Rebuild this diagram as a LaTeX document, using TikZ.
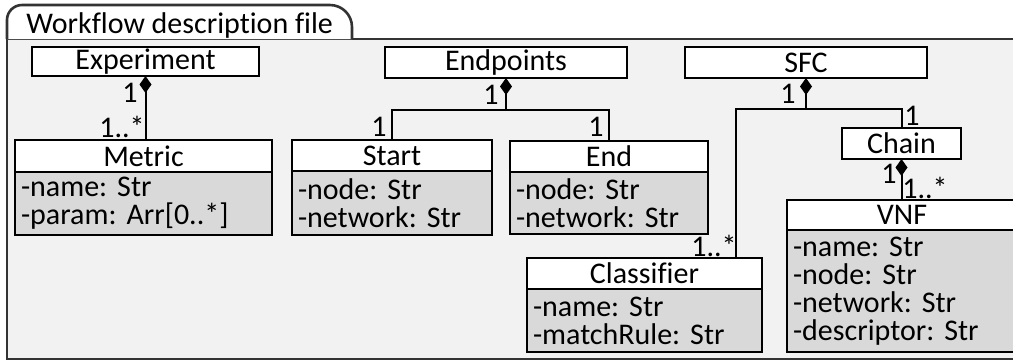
\documentclass[tikz,border=0pt]{standalone}
\usepackage{fontspec}
\setmainfont{Carlito}[Ligatures=NoCommon]
\usetikzlibrary{
  positioning,
  arrows.meta,
  calc
}
\definecolor{wfFrame}{HTML}{F2F2F2}
\definecolor{wfAttr}{HTML}{D9D9D9}
\frenchspacing

\begin{document}
\begin{tikzpicture}[
  x=0.5pt, y=-0.5pt,
  every node/.style={font=\fontsize{15pt}{14pt}\selectfont},
  frame/.style={draw=black!80, line width=1.3pt},
  hbox/.style={
    rectangle, draw, fill=white, line width=1.1pt,
    inner sep=0pt, outer sep=0pt, minimum height=15.5pt
  },
  abox/.style={
    rectangle, draw, fill=wfAttr, line width=1.1pt,
    anchor=north west, align=left,
    inner xsep=3pt, inner ysep=0pt, outer sep=0pt
  },
  mult/.style={inner sep=0pt},
  link/.style={line width=1pt},
  compo/.style={{Diamond[length=8.5pt, width=6pt]}-, line width=1pt}
]
 \useasboundingbox (0,0) rectangle (1013,361);
 \clip (0,0) rectangle (1013,361);

 % package frame with tab
 \draw[frame, fill=wfFrame] (7,39) rectangle (1030,359);
 \draw[frame, fill=white] (7,39) -- (7,20) arc[start angle=180, end angle=270, radius=15]
   -- (330,5) arc[start angle=270, end angle=360, radius=22] -- (352,39);
 \node[anchor=base west, inner sep=0pt] (title) at (26,33) {Workflow description file};

 % top row -- 3 containers
 \node[hbox, minimum width=113.5pt, minimum height=14.5pt] (exp) at (145.5,61.5) {Experiment};
 \node[hbox, minimum width=121pt]  (endp) at (506,62.5) {Endpoints};
 \node[hbox, minimum width=121pt]  (sfc)  at (806,62.5) {SFC};

 % Metric
 \node[hbox, anchor=north west, minimum width=128.5pt, minimum height=16pt] (metric) at (15,140) {Metric};
 \node[abox, minimum width=128.5pt, text width=122.5pt, minimum height=31.5pt] (metricA) at (metric.south west)
   {-name: Str\\-param: Arr[0..*]};

 % Start / End
 \node[hbox, anchor=north west, minimum width=100pt] (start) at (292,140) {Start};
 \node[abox, minimum width=100pt, text width=94pt, minimum height=32pt] (startA) at (start.south west)
   {-node: Str\\-network: Str};
 \node[hbox, anchor=north west, minimum width=99pt] (end) at (510,141) {End};
 \node[abox, minimum width=99pt, text width=93pt, minimum height=31pt] (endA) at (end.south west)
   {-node: Str\\-network: Str};

 % Chain, VNF, Classifier
 \node[hbox, minimum width=59.5pt] (chain) at (901.5,143.5) {Chain};
 \node[hbox, anchor=north west, minimum width=115pt, minimum height=15pt] (vnf) at (787,200) {VNF};
 \node[abox, minimum width=115pt, text width=109pt, minimum height=61pt] (vnfA) at (vnf.south west)
   {-name: Str\\-node: Str\\-network: Str\\-descriptor: Str};
 \node[hbox, anchor=north west, minimum width=117.5pt] (clf) at (527,258) {Classifier};
 \node[abox, minimum width=117.5pt, text width=111.5pt, minimum height=31.5pt] (clfA) at (clf.south west)
   {-name: Str\\-matchRule: Str};

 % compositions
 \draw[compo] (exp.south) -- (exp.south |- metric.north);

 \coordinate (epbar) at (506,110);
 \draw[compo] (endp.south) -- (epbar) -| (start.north);
 \draw[link] (epbar) -| (end.north);

 \coordinate (sfcbar) at (806,109);
 \draw[compo] (sfc.south) -- (sfcbar) -| (chain.north);
 \draw[link] (sfcbar) -| ([xshift=-13pt]clf.north east);

 \draw[compo] (chain.south) -- (chain.south |- vnf.north);

 % multiplicities
 \node[mult] (mExp)   at (130,93)  {1};
 \node[mult] (mMet)   at (122,127) {1..*};
 \node[mult] (mEp)    at (491,95)  {1};
 \node[mult] (mStart) at (379,127) {1};
 \node[mult] (mEnd)   at (596,127) {1};
 \node[mult] (mSfc)   at (788,94)  {1};
 \node[mult] (mChT)   at (912,116) {1};
 \node[mult] (mChB)   at (889,174) {1};
 \node[mult] (mVnf)   at (925,188) {1..*};
 \node[mult] (mClf)   at (714,246) {1..*};
\end{tikzpicture}
\end{document}
